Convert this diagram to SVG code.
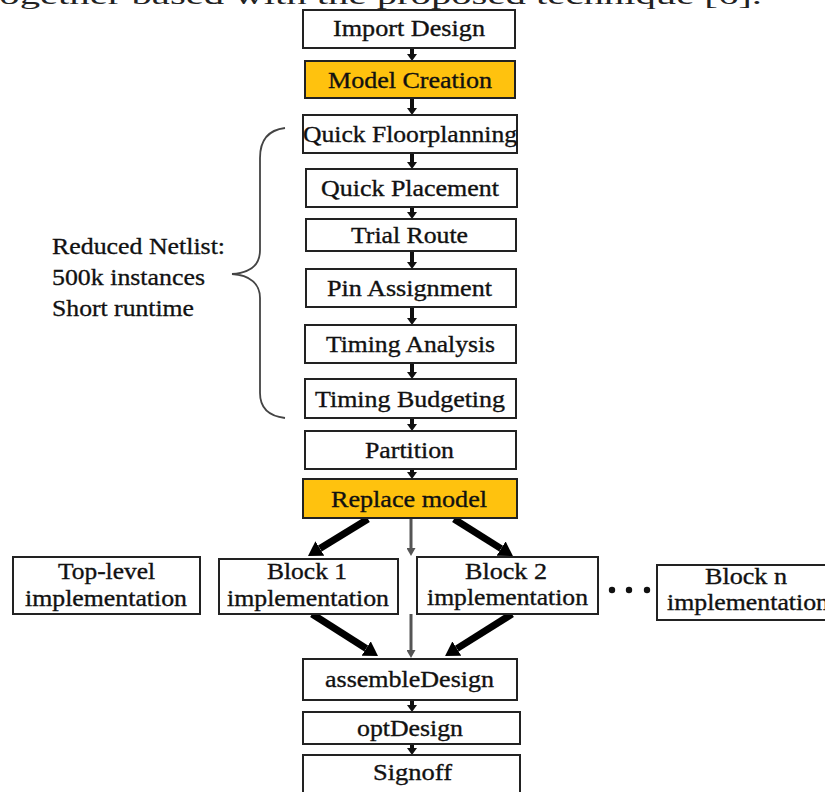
<svg xmlns="http://www.w3.org/2000/svg" width="825" height="792" viewBox="0 0 825 792">
<style>
.box{fill:#ffffff;stroke:#222222;stroke-width:2}
.hl{fill:#FFC20E;stroke:#222222;stroke-width:2}
.t{font-family:"Liberation Serif","Times New Roman",Times,serif;font-size:24px;fill:#111111;stroke:#111111;stroke-width:0.35;text-anchor:middle}
.ts{font-family:"Liberation Serif","Times New Roman",Times,serif;font-size:23px;fill:#111111;stroke:#111111;stroke-width:0.3}
.c{stroke:#111111;stroke-width:4;fill:none}
.big{stroke:#000000;stroke-width:7;fill:none}
.gr{stroke:#555555;stroke-width:3;fill:none}
</style>
<defs>
<marker id="ahs" markerUnits="userSpaceOnUse" markerWidth="10" markerHeight="10" viewBox="0 0 7 10" refX="0" refY="5" orient="auto"><path d="M0,0 L7,5 L0,10 z" fill="#111111"/></marker>
<marker id="ahb" markerUnits="userSpaceOnUse" markerWidth="14" markerHeight="17" viewBox="0 0 14 17" refX="0" refY="8.5" orient="auto"><path d="M0,0 L14,8.5 L0,17 z" fill="#000000"/></marker>
<marker id="ahg" markerUnits="userSpaceOnUse" markerWidth="8" markerHeight="9" viewBox="0 0 8 9" refX="0" refY="4.5" orient="auto"><path d="M0,0 L8,4.5 L0,9 z" fill="#555555"/></marker>
</defs>
<rect width="825" height="792" fill="#ffffff"/>
<text x="-12" y="4" style="font-family:'Liberation Serif','Times New Roman',serif;font-size:26px;fill:#222222" textLength="774" lengthAdjust="spacingAndGlyphs">together based with the proposed technique [6].</text>

<g id="connectors">
<line class="c" x1="412" y1="47" x2="412" y2="54" marker-end="url(#ahs)"/>
<line class="c" x1="412" y1="98" x2="412" y2="108" marker-end="url(#ahs)"/>
<line class="c" x1="412" y1="153" x2="412" y2="162" marker-end="url(#ahs)"/>
<line class="c" x1="412" y1="207" x2="412" y2="212" marker-end="url(#ahs)"/>
<line class="c" x1="412" y1="251" x2="412" y2="262" marker-end="url(#ahs)"/>
<line class="c" x1="412" y1="307" x2="412" y2="318" marker-end="url(#ahs)"/>
<line class="c" x1="412" y1="363" x2="412" y2="372" marker-end="url(#ahs)"/>
<line class="c" x1="412" y1="418" x2="412" y2="424" marker-end="url(#ahs)"/>
<line class="c" x1="412" y1="469" x2="412" y2="472" marker-end="url(#ahs)"/>
<line class="c" x1="412" y1="700" x2="412" y2="705" marker-end="url(#ahs)"/>
<line class="c" x1="412" y1="744" x2="412" y2="748" marker-end="url(#ahs)"/>
<line class="big" x1="368" y1="519" x2="319.9" y2="548.6" marker-end="url(#ahb)"/>
<line class="big" x1="454" y1="519" x2="501.1" y2="548.6" marker-end="url(#ahb)"/>
<line class="big" x1="312" y1="614" x2="366.2" y2="648.5" marker-end="url(#ahb)"/>
<line class="big" x1="512" y1="614" x2="456.9" y2="648.6" marker-end="url(#ahb)"/>
<line class="gr" x1="411" y1="518" x2="411" y2="548" marker-end="url(#ahg)"/>
<line class="gr" x1="411" y1="614" x2="411" y2="650" marker-end="url(#ahg)"/>
</g>

<g id="import-design"><rect class="box" x="303" y="10" width="212" height="38"/><text class="t" x="409" y="36" textLength="152" lengthAdjust="spacingAndGlyphs">Import Design</text></g>
<g id="model-creation"><rect class="hl" x="305" y="61" width="210" height="37"/><text class="t" x="410" y="88" textLength="164" lengthAdjust="spacingAndGlyphs">Model Creation</text></g>
<g id="quick-floorplanning"><rect class="box" x="303" y="115" width="214" height="38"/><text class="t" x="410" y="142" textLength="214" lengthAdjust="spacingAndGlyphs">Quick Floorplanning</text></g>
<g id="quick-placement"><rect class="box" x="306" y="169" width="211" height="38"/><text class="t" x="410" y="196" textLength="178" lengthAdjust="spacingAndGlyphs">Quick Placement</text></g>
<g id="trial-route"><rect class="box" x="306" y="219" width="210" height="32"/><text class="t" x="409.5" y="243" textLength="117" lengthAdjust="spacingAndGlyphs">Trial Route</text></g>
<g id="pin-assignment"><rect class="box" x="306" y="269" width="210" height="38"/><text class="t" x="409.5" y="296" textLength="165" lengthAdjust="spacingAndGlyphs">Pin Assignment</text></g>
<g id="timing-analysis"><rect class="box" x="305" y="325" width="211" height="38"/><text class="t" x="410.5" y="352" textLength="169" lengthAdjust="spacingAndGlyphs">Timing Analysis</text></g>
<g id="timing-budgeting"><rect class="box" x="305" y="379" width="211" height="39"/><text class="t" x="410" y="406.5" textLength="190" lengthAdjust="spacingAndGlyphs">Timing Budgeting</text></g>
<g id="partition"><rect class="box" x="305" y="431" width="211" height="38"/><text class="t" x="409.5" y="458" textLength="89" lengthAdjust="spacingAndGlyphs">Partition</text></g>
<g id="replace-model"><rect class="hl" x="303" y="479" width="214" height="39"/><text class="t" x="409" y="506.5" textLength="156" lengthAdjust="spacingAndGlyphs">Replace model</text></g>

<g id="top-level"><rect class="box" x="13" y="557" width="187" height="57"/><text class="t" x="106.5" y="579" textLength="97" lengthAdjust="spacingAndGlyphs">Top-level</text><text class="t" x="106" y="606" textLength="162" lengthAdjust="spacingAndGlyphs">implementation</text></g>
<g id="block-1"><rect class="box" x="219" y="559" width="179" height="55"/><text class="t" x="307" y="579" textLength="80" lengthAdjust="spacingAndGlyphs">Block 1</text><text class="t" x="308" y="606" textLength="162" lengthAdjust="spacingAndGlyphs">implementation</text></g>
<g id="block-2"><rect class="box" x="417" y="557" width="181" height="57"/><text class="t" x="506" y="579" textLength="82" lengthAdjust="spacingAndGlyphs">Block 2</text><text class="t" x="507.5" y="605" textLength="161" lengthAdjust="spacingAndGlyphs">implementation</text></g>
<g id="ellipsis"><circle cx="612" cy="590" r="3.2" fill="#111111"/><circle cx="629" cy="590" r="3.2" fill="#111111"/><circle cx="647" cy="590" r="3.2" fill="#111111"/></g>
<g id="block-n"><rect class="box" x="657" y="565" width="175" height="55"/><text class="t" x="746" y="584" textLength="82" lengthAdjust="spacingAndGlyphs">Block n</text><text class="t" x="667" y="610" style="text-anchor:start" textLength="162" lengthAdjust="spacingAndGlyphs">implementation</text></g>

<g id="assemble-design"><rect class="box" x="303" y="659" width="214" height="41"/><text class="t" x="409.5" y="687" textLength="169" lengthAdjust="spacingAndGlyphs">assembleDesign</text></g>
<g id="opt-design"><rect class="box" x="303" y="712" width="217" height="32"/><text class="t" x="410" y="736" textLength="106" lengthAdjust="spacingAndGlyphs">optDesign</text></g>
<g id="signoff"><rect class="box" x="303" y="755" width="217" height="40"/><text class="t" x="412.5" y="780" textLength="79" lengthAdjust="spacingAndGlyphs">Signoff</text></g>

<g id="reduced-netlist">
<path d="M285,128 C268,130 260,140 260,158 L260,250 C260,265 250,273 232,274 C250,275 260,284 260,298 L260,393 C260,408 268,416 285,418" fill="none" stroke="#444444" stroke-width="1.8"/>
<text class="ts" x="52" y="254" textLength="173" lengthAdjust="spacingAndGlyphs">Reduced Netlist:</text>
<text class="ts" x="52" y="285" textLength="153" lengthAdjust="spacingAndGlyphs">500k instances</text>
<text class="ts" x="52" y="316" textLength="142" lengthAdjust="spacingAndGlyphs">Short runtime</text>
</g>
</svg>
